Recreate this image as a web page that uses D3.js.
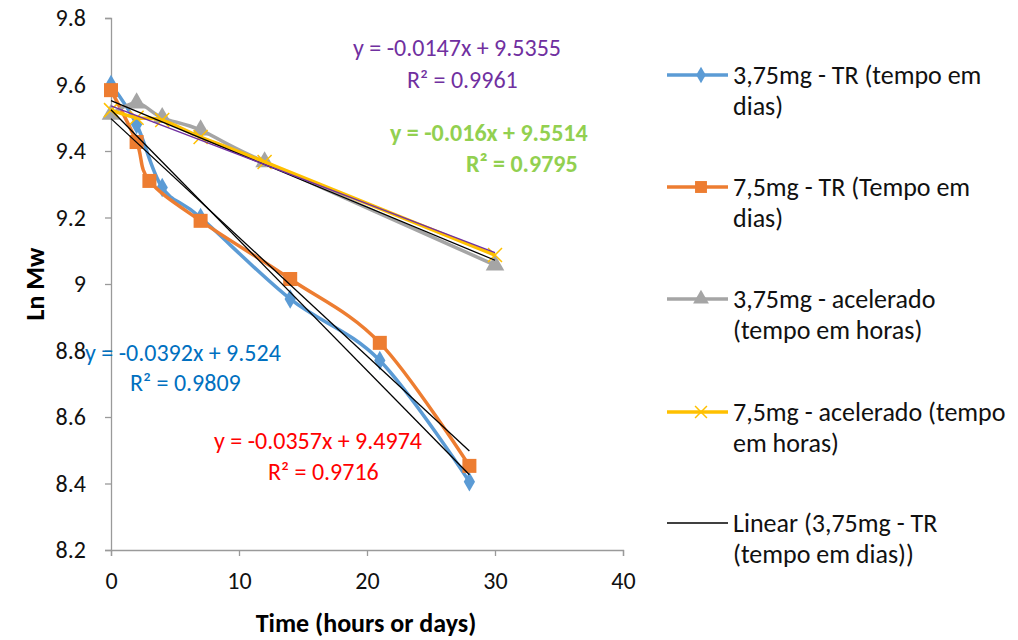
<!DOCTYPE html>
<html>
<head>
<meta charset="utf-8">
<script src="https://cdn.jsdelivr.net/npm/d3@7"></script>
<style>
  body { margin: 0; background: #fff; }
  text { font-family: Calibri, Carlito, Lato, sans-serif; }
</style>
</head>
<body>
<div id="chart"></div>
<script>
// series data (x = days or hours, y = Ln Mw)
const trDays375 = [[0, 9.60], [2, 9.48], [4, 9.29], [7, 9.20], [14, 8.955], [21, 8.77], [28, 8.405]];
const trDays75 = [[0, 9.583], [2, 9.427], [3, 9.31], [7, 9.19], [14, 9.015], [21, 8.823], [28, 8.453]];
const acel375 = [[0, 9.51], [2, 9.544], [4, 9.50], [7, 9.463], [12, 9.367], [30, 9.057]];
const acel75 = [[0, 9.523], [2, 9.50], [4, 9.493], [7, 9.442], [12, 9.367], [30, 9.087]];

const seriesNames = [
  ['3,75mg - TR (tempo em', 'dias)'],
  ['7,5mg - TR (Tempo em', 'dias)'],
  ['3,75mg - acelerado', '(tempo em horas)'],
  ['7,5mg - acelerado (tempo', 'em horas)'],
  ['Linear (3,75mg - TR', '(tempo em dias))']
];

// trendlines: slope, intercept, x range
const trends = [
  { m: -0.0392, b: 9.524, x0: 0, x1: 28, color: '#000', eq: 'y = -0.0392x + 9.524', r2: '0.9809', textColor: '#0070C0', bold: false },
  { m: -0.0357, b: 9.4974, x0: 0, x1: 28, color: '#000', eq: 'y = -0.0357x + 9.4974', r2: '0.9716', textColor: '#FF0000', bold: false },
  { m: -0.016, b: 9.5514, x0: 0, x1: 30, color: '#000', eq: 'y = -0.016x + 9.5514', r2: '0.9795', textColor: '#92D050', bold: true },
  { m: -0.0147, b: 9.5355, x0: 0, x1: 30, color: '#7030A0', eq: 'y = -0.0147x + 9.5355', r2: '0.9961', textColor: '#7030A0', bold: false }
];

const xTicks = [0, 10, 20, 30, 40];
const yTicks = [8.2, 8.4, 8.6, 8.8, 9.0, 9.2, 9.4, 9.6, 9.8];

const width = 1018, height = 640;
const plot = { left: 111, right: 623, top: 18, bottom: 550 };

const svg = d3.select('#chart').append('svg')
  .attr('width', width)
  .attr('height', height);

const x = d3.scaleLinear().domain([0, 40]).range([plot.left, plot.right]);
const y = d3.scaleLinear().domain([8.2, 9.8]).range([plot.bottom, plot.top]);

// axes
const axisColor = '#9a9a9a';
const yAxis = svg.append('g')
  .attr('transform', `translate(${plot.left},0)`)
  .call(d3.axisLeft(y).tickValues(yTicks).tickSize(6).tickPadding(19)
    .tickFormat(d => String(+d.toFixed(1))));
const xAxis = svg.append('g')
  .attr('transform', `translate(0,${plot.bottom})`)
  .call(d3.axisBottom(x).tickValues(xTicks).tickSize(6).tickPadding(16));

[xAxis, yAxis].forEach(g => {
  g.select('.domain').attr('stroke', axisColor).attr('stroke-width', 1.3);
  g.selectAll('.tick line').attr('stroke', axisColor).attr('stroke-width', 1.3);
  g.selectAll('.tick text').attr('fill', '#111').style('font-size', '24px')
    .style('font-family', 'Calibri, Carlito, Lato, sans-serif');
});

// axis titles
svg.append('text')
  .attr('transform', `translate(44,${(plot.top + plot.bottom) / 2}) rotate(-90)`)
  .attr('text-anchor', 'middle')
  .style('font-size', '26px').style('font-weight', 'bold')
  .text('Ln Mw');
svg.append('text')
  .attr('x', 366).attr('y', 632)
  .attr('text-anchor', 'middle')
  .style('font-size', '26px').style('font-weight', 'bold')
  .text('Time (hours or days)');

// series
const line = d3.line()
  .x(d => x(d[0]))
  .y(d => y(d[1]))
  .curve(d3.curveCardinal.tension(0));

const series = [
  { data: trDays375, color: '#5B9BD5', marker: 'diamond' },
  { data: trDays75, color: '#ED7D31', marker: 'square' },
  { data: acel375, color: '#A5A5A5', marker: 'triangle' },
  { data: acel75, color: '#FFC000', marker: 'x' }
];

function drawMarker(g, type, cx, cy, color, scale) {
  const s = scale || 1;
  if (type === 'diamond') {
    g.append('path')
      .attr('d', d3.symbol(d3.symbolDiamond, 110 * s * s)())
      .attr('transform', `translate(${cx},${cy})`)
      .attr('fill', color);
  } else if (type === 'square') {
    g.append('rect')
      .attr('x', cx - 7 * s).attr('y', cy - 7 * s)
      .attr('width', 14 * s).attr('height', 14 * s)
      .attr('fill', color);
  } else if (type === 'triangle') {
    g.append('path')
      .attr('d', d3.symbol(d3.symbolTriangle, 150 * s * s)())
      .attr('transform', `translate(${cx},${cy})`)
      .attr('fill', color);
  } else if (type === 'x') {
    const r = 7 * s;
    g.append('path')
      .attr('d', `M${cx - r},${cy - r}L${cx + r},${cy + r}M${cx - r},${cy + r}L${cx + r},${cy - r}`)
      .attr('stroke', color).attr('stroke-width', 1.5).attr('fill', 'none');
  }
}

series.forEach(s => {
  const g = svg.append('g');
  g.append('path')
    .datum(s.data)
    .attr('fill', 'none')
    .attr('stroke', s.color)
    .attr('stroke-width', 3.5)
    .attr('stroke-linejoin', 'round')
    .attr('d', line);
  s.data.forEach(d => drawMarker(g, s.marker, x(d[0]), y(d[1]), s.color));
});

// trendlines
trends.forEach(t => {
  svg.append('line')
    .attr('x1', x(t.x0)).attr('y1', y(t.m * t.x0 + t.b))
    .attr('x2', x(t.x1)).attr('y2', y(t.m * t.x1 + t.b))
    .attr('stroke', t.color).attr('stroke-width', 1.3);
});

// trendline labels (positions in pixels)
const labelPos = [
  { eqX: 85, eqY: 361, r2X: 130, r2Y: 391 },
  { eqX: 214, eqY: 449, r2X: 268, r2Y: 480 },
  { eqX: 390, eqY: 141, r2X: 466, r2Y: 172 },
  { eqX: 353, eqY: 56, r2X: 407, r2Y: 88 }
];
trends.forEach((t, i) => {
  const p = labelPos[i];
  const weight = t.bold ? 'bold' : 'normal';
  svg.append('text').attr('x', p.eqX).attr('y', p.eqY)
    .attr('fill', t.textColor).style('font-size', '24px').style('font-weight', weight)
    .text(t.eq);
  svg.append('text').attr('x', p.r2X).attr('y', p.r2Y)
    .attr('fill', t.textColor).style('font-size', '24px').style('font-weight', weight)
    .text('R² = ' + t.r2);
});

// legend
const legendY = [75, 187, 299, 412, 523];
const legendItems = series.map(s => ({ color: s.color, marker: s.marker, width: 3.5 }))
  .concat([{ color: '#000', marker: null, width: 1.3 }]);
legendItems.forEach((item, i) => {
  const g = svg.append('g');
  const ly = legendY[i];
  g.append('line')
    .attr('x1', 667).attr('x2', 728).attr('y1', ly).attr('y2', ly)
    .attr('stroke', item.color).attr('stroke-width', item.width);
  if (item.marker) drawMarker(g, item.marker, 701, ly, item.color, 0.85);
  seriesNames[i].forEach((txt, j) => {
    g.append('text')
      .attr('x', 733).attr('y', ly + 9 + j * 31)
      .style('font-size', '26px').attr('fill', '#111')
      .text(txt);
  });
});
</script>
</body>
</html>
